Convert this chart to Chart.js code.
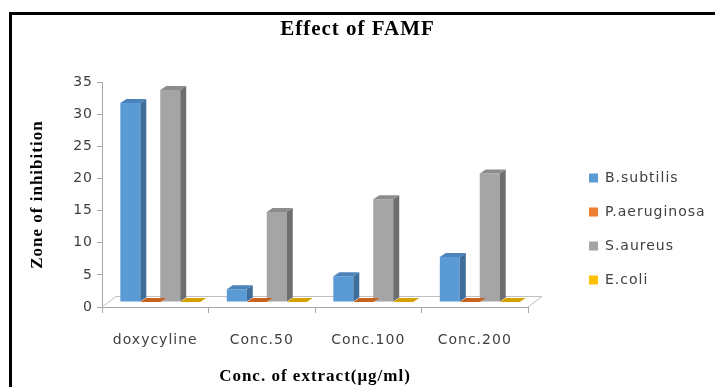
<!DOCTYPE html>
<html lang="en">
<head>
<meta charset="utf-8">
<title>Effect of FAMF</title>
<script src="https://cdn.jsdelivr.net/npm/chart.js@4.4.0/dist/chart.umd.min.js"></script>
<style>
  html, body { margin: 0; padding: 0; background: #fff; }
  #chart { display: block; }
</style>
</head>
<body>
<canvas id="chart" width="715" height="387"></canvas>
<script>
// values
const categories = ['doxycyline', 'Conc.50', 'Conc.100', 'Conc.200'];
const bSubtilis = [31, 2, 4, 7];
const pAeruginosa = [0, 0, 0, 0];
const sAureus = [33, 14, 16, 20];
const eColi = [0, 0, 0, 0];
const yTicks = [0, 5, 10, 15, 20, 25, 30, 35];

const frontColors = ['#5B9BD5', '#ED7D31', '#A5A5A5', '#FFC000'];
const sideColors = ['#3F6E9C', '#B85C20', '#6E6E6E', '#C29100'];
const topColors = ['#4B83BA', '#C8621F', '#8C8C8C', '#D4A200'];

const depth = {dx: 6, dy: -4};       // depth of one bar
const shift = {dx: 5, dy: -5};       // bars stand in the middle of the floor
const floorDepth = {dx: 14, dy: -11};

function poly(ctx, pts, color) {
  ctx.beginPath();
  ctx.moveTo(pts[0][0], pts[0][1]);
  for (let i = 1; i < pts.length; i++) ctx.lineTo(pts[i][0], pts[i][1]);
  ctx.closePath();
  ctx.fillStyle = color;
  ctx.fill();
}

// white page, black frame, wide letter spacing like the original
const frame = {
  id: 'frame',
  beforeLayout(chart) { chart.ctx.letterSpacing = '1px'; },
  beforeDraw(chart) {
    const ctx = chart.ctx;
    ctx.letterSpacing = '1px';
    ctx.save();
    ctx.fillStyle = '#fff';
    ctx.fillRect(0, 0, chart.width, chart.height);
    ctx.fillStyle = '#000';
    ctx.fillRect(9, 12, 3, chart.height);
    ctx.fillRect(9, 12, chart.width, 3);
    ctx.restore();
  }
};

// floor + side and top faces of the bars
const bars3d = {
  id: 'bars3d',
  beforeDatasetsDraw(chart) {
    const {ctx, chartArea: a} = chart;
    ctx.save();
    ctx.strokeStyle = '#BFBFBF';
    ctx.lineWidth = 1;
    ctx.beginPath();
    ctx.moveTo(a.left, a.bottom);
    ctx.lineTo(a.left + floorDepth.dx, a.bottom + floorDepth.dy + 0.5);
    ctx.lineTo(a.right + floorDepth.dx, a.bottom + floorDepth.dy + 0.5);
    ctx.lineTo(a.right, a.bottom);
    ctx.stroke();
    ctx.restore();
    ctx.save();
    ctx.translate(shift.dx, shift.dy);
  },
  afterDatasetsDraw(chart) {
    const ctx = chart.ctx;
    chart.data.datasets.forEach((ds, i) => {
      chart.getDatasetMeta(i).data.forEach(bar => {
        const p = bar.getProps(['x', 'y', 'base', 'width'], true);
        const l = p.x - p.width / 2, r = p.x + p.width / 2;
        poly(ctx, [[r, p.y], [r + depth.dx, p.y + depth.dy], [r + depth.dx, p.base + depth.dy], [r, p.base]], sideColors[i]);
        poly(ctx, [[l, p.y], [r, p.y], [r + depth.dx, p.y + depth.dy], [l + depth.dx, p.y + depth.dy]], topColors[i]);
      });
    });
    ctx.restore();
  }
};

const tickFont = {family: 'DejaVu Sans', size: 14};
const titleFont = {family: 'Liberation Serif', size: 17, weight: 'bold'};

new Chart(document.getElementById('chart'), {
  type: 'bar',
  data: {
    labels: categories,
    datasets: [
      {label: 'B.subtilis', data: bSubtilis, backgroundColor: frontColors[0]},
      {label: 'P.aeruginosa', data: pAeruginosa, backgroundColor: frontColors[1]},
      {label: 'S.aureus', data: sAureus, backgroundColor: frontColors[2]},
      {label: 'E.coli', data: eColi, backgroundColor: frontColors[3]}
    ]
  },
  options: {
    responsive: false,
    animation: false,
    devicePixelRatio: 1,
    datasets: {bar: {categoryPercentage: 0.75, barPercentage: 1, borderWidth: 0}},
    layout: {padding: 0},
    scales: {
      x: {
        grid: {offset: true, drawOnChartArea: false, tickLength: 6, color: '#A6A6A6'},
        border: {color: '#A6A6A6'},
        ticks: {color: '#404040', font: tickFont, padding: 19, maxRotation: 0},
        title: {display: true, text: 'Conc. of extract(μg/ml)', color: '#000', font: titleFont, padding: {top: 8, bottom: 0}},
        afterFit(s) { s.height = 80; }
      },
      y: {
        min: 0,
        max: 35,
        afterBuildTicks(s) { s.ticks = yTicks.map(v => ({value: v})); },
        grid: {drawOnChartArea: false, tickLength: 5, color: '#A6A6A6'},
        border: {color: '#A6A6A6'},
        ticks: {color: '#404040', font: tickFont, padding: 4},
        title: {display: true, text: 'Zone of inhibition', color: '#000', font: titleFont, padding: {top: 27, bottom: 0}},
        afterFit(s) { s.width = 102; }
      },
      gap: {
        type: 'linear',
        position: 'right',
        grid: {display: false},
        border: {display: false},
        ticks: {display: false},
        afterFit(s) { s.width = 41; }
      }
    },
    plugins: {
      title: {
        display: true,
        text: 'Effect of FAMF',
        color: '#000',
        font: {family: 'Liberation Serif', size: 21, weight: 'bold'},
        padding: {top: 17, bottom: 40}
      },
      legend: {
        position: 'right',
        align: 'end',
        fullSize: false,
        maxWidth: 146,
        labels: {boxWidth: 9, boxHeight: 9, padding: 20, color: '#404040', font: tickFont}
      },
      tooltip: {enabled: false}
    }
  },
  plugins: [frame, bars3d]
});
</script>
</body>
</html>
